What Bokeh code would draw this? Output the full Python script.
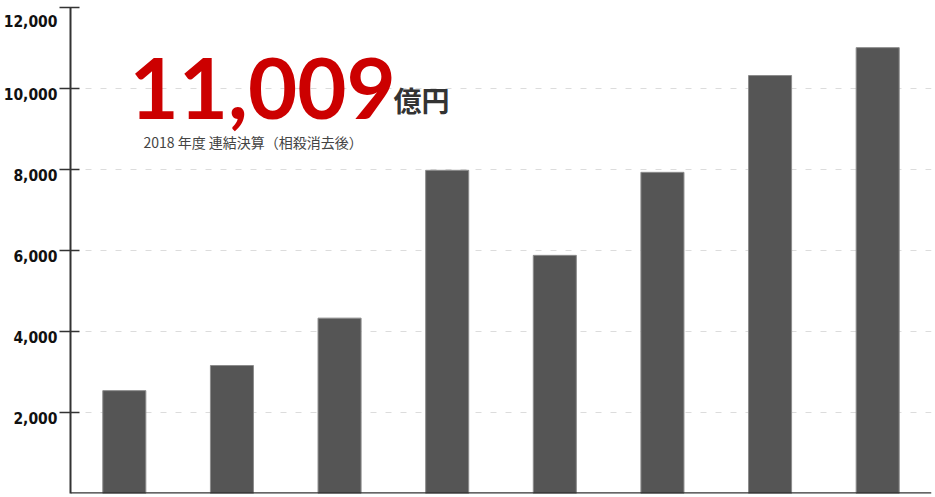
from bokeh.plotting import figure
from bokeh.models import Range1d, FactorRange, FixedTicker, NumeralTickFormatter, Label, Span
from bokeh.embed import file_html
from bokeh.resources import INLINE

# ---- data ----
years = ["2011", "2012", "2013", "2014", "2015", "2016", "2017", "2018"]
sales = [2540, 3160, 4330, 7980, 5880, 7930, 10320, 11009]
y_ticks = [2000, 4000, 6000, 8000, 10000, 12000]
headline = "11,009"
unit = "億円"
subtitle = "2018 年度 連結決算（相殺消去後）"

p = figure(
    x_range=FactorRange(*years, range_padding=0),
    y_range=Range1d(0, 12000),
    width=935, height=497,
    output_backend="svg", toolbar_location=None,
    min_border_left=69, min_border_right=4, min_border_top=7, min_border_bottom=4,
)

p.vbar(x=years, top=sales, width=0.4, fill_color="#555555",
       line_color="#8c8c8c", line_width=1)

p.outline_line_color = None
p.background_fill_color = "white"
p.border_fill_color = "white"
p.xgrid.grid_line_color = None
p.ygrid.ticker = FixedTicker(ticks=y_ticks)
p.ygrid.grid_line_color = "#dcdcdc"
p.ygrid.grid_line_dash = "6 9"
p.ygrid.grid_line_width = 1

ya = p.yaxis[0]
ya.ticker = FixedTicker(ticks=y_ticks, minor_ticks=[])
ya.formatter = NumeralTickFormatter(format="0,0")
# labels sit a little below their tick, as in the original
ya.major_label_overrides = {t: "\n" + f"{t:,}" for t in y_ticks}
ya.major_label_text_line_height = 0.7
ya.axis_line_color = "#333333"
ya.axis_line_width = 2
ya.major_tick_line_color = "#333333"
ya.major_tick_line_width = 1.5
ya.major_tick_out = 11
ya.major_tick_in = 9
ya.minor_tick_line_color = None
ya.major_label_text_font = "DejaVu Sans Condensed"
ya.major_label_text_font_style = "bold"
ya.major_label_text_font_size = "15.5px"
ya.major_label_text_color = "#111111"
ya.major_label_standoff = 2

p.xaxis.visible = False
p.add_layout(Span(location=0, dimension="width", line_color="#333333", line_width=2.5))

p.add_layout(Label(x=59, y=405, x_units="screen", y_units="screen", text=headline,
                   text_font="Lato", text_font_style="bold",
                   text_font_size="85px", text_color="#cc0000",
                   text_baseline="alphabetic"))
p.add_layout(Label(x=323, y=394, x_units="screen", y_units="screen", text=unit,
                   text_font="Noto Sans CJK JP", text_font_style="bold",
                   text_font_size="28px", text_color="#333333",
                   text_baseline="alphabetic"))
p.add_layout(Label(x=73, y=352, x_units="screen", y_units="screen", text=subtitle,
                   text_font="Noto Sans CJK JP",
                   text_font_size="14px", text_color="#444444",
                   text_baseline="alphabetic"))

open("out.html", "w").write(file_html(p, INLINE))
